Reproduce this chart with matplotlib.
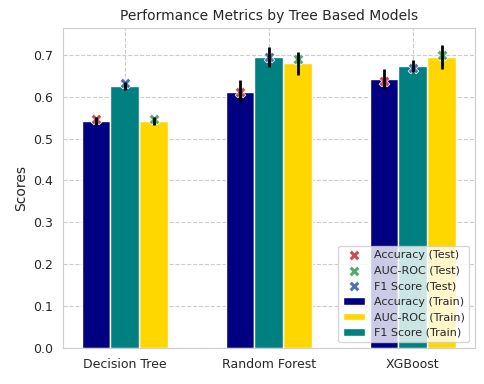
import numpy as np
import matplotlib
matplotlib.use("Agg")
import matplotlib.pyplot as plt
import seaborn as sns

models = ["Decision Tree", "Random Forest", "XGBoost"]
acc_train = [0.542, 0.612, 0.642]
f1_train = [0.626, 0.695, 0.674]
auc_train = [0.542, 0.680, 0.695]
acc_err = [0.010, 0.027, 0.023]
f1_err = [0.009, 0.023, 0.014]
auc_err = [0.010, 0.027, 0.028]
acc_test = [0.547, 0.612, 0.637]
f1_test = [0.633, 0.695, 0.668]
auc_test = [0.547, 0.689, 0.700]

sns.set_style("whitegrid", {"grid.linestyle": "--"})
plt.rcParams['font.family'] = ['DejaVu Sans']

fig, ax = plt.subplots(figsize=(4.84, 3.84), dpi=100)
fig.subplots_adjust(left=0.130, right=0.981, top=0.927, bottom=0.094)

x = np.arange(len(models))
w = 0.2
ekw = dict(ecolor="black", elinewidth=2, capsize=0, zorder=5)
ax.bar(x - w, acc_train, w, yerr=acc_err, color="navy", label="Accuracy (Train)", error_kw=ekw)
ax.bar(x + w, auc_train, w, yerr=auc_err, color="gold", label="AUC-ROC (Train)", error_kw=ekw)
ax.bar(x, f1_train, w, yerr=f1_err, color="teal", label="F1 Score (Train)", error_kw=ekw)

ax.scatter(x - w, acc_test, marker="X", s=60, color="#c44e52", edgecolor="white", linewidth=0.5, zorder=3, label="Accuracy (Test)")
ax.scatter(x + w, auc_test, marker="X", s=60, color="#55a868", edgecolor="white", linewidth=0.5, zorder=3, label="AUC-ROC (Test)")
ax.scatter(x, f1_test, marker="X", s=60, color="#4c72b0", edgecolor="white", linewidth=0.5, zorder=3, label="F1 Score (Test)")

ax.set_xticks(x)
ax.set_xticklabels(models, fontsize=9)
ax.tick_params(axis="y", labelsize=9)
ax.set_ylabel("Scores", fontsize=10)
ax.set_title("Performance Metrics by Tree Based Models", fontsize=10)
ax.set_ylim(0, 0.764)

ax.legend(loc="lower right", fontsize=8)

fig.savefig("out.png", dpi=100)
